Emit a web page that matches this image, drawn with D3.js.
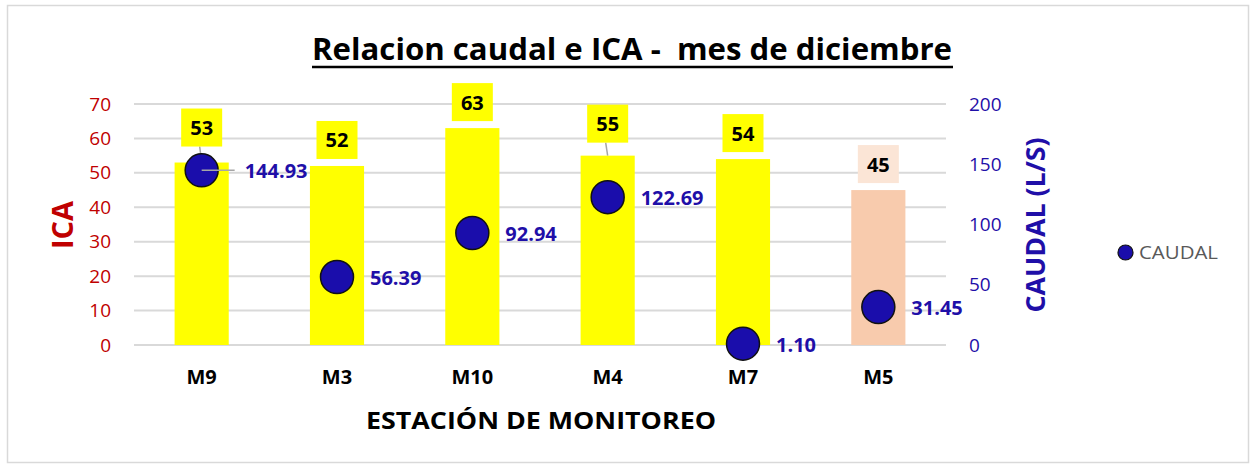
<!DOCTYPE html>
<html>
<head>
<meta charset="utf-8">
<script src="https://cdn.jsdelivr.net/npm/d3@7"></script>
<style>
  html, body { margin: 0; padding: 0; background: #fff; }
  svg { display: block; font-family: "Open Sans", "Noto Sans", sans-serif; }
</style>
</head>
<body>
<svg id="chart" width="1256" height="468"></svg>
<script>
// Monitoring stations and December values
const estaciones = ["M9", "M3", "M10", "M4", "M7", "M5"];
const ica = [53, 52, 63, 55, 54, 45];
const caudal = [144.93, 56.39, 92.94, 122.69, 1.10, 31.45];
const icaTicks = [0, 10, 20, 30, 40, 50, 60, 70];
const caudalTicks = [0, 50, 100, 150, 200];

const svg = d3.select("#chart");
const W = 1256, H = 468;
const plot = { left: 134, right: 946, top: 104, bottom: 345 };

const BLUE = "#1F0FA8";
const RED = "#C00000";
const YELLOW = "#FFFF00";
const PEACH = "#F8CBAD";
const PEACH_LIGHT = "#FBE5D6";

// chart frame
svg.append("rect")
  .attr("x", 7.5).attr("y", 5.5)
  .attr("width", W - 15).attr("height", H - 11)
  .attr("fill", "#fff").attr("stroke", "#D9D9D9").attr("stroke-width", 1.5);

const x = d3.scaleBand().domain(estaciones)
  .range([plot.left, plot.right]).paddingInner(0.6).paddingOuter(0.3);
const yL = d3.scaleLinear().domain([0, 70]).range([plot.bottom, plot.top]);
const yR = d3.scaleLinear().domain([0, 200]).range([plot.bottom, plot.top]);

// horizontal gridlines
svg.append("g").selectAll("line").data(icaTicks).join("line")
  .attr("x1", plot.left).attr("x2", plot.right)
  .attr("y1", d => yL(d)).attr("y2", d => yL(d))
  .attr("stroke", "#D9D9D9").attr("stroke-width", 2);

// left axis (ICA)
const axL = svg.append("g").attr("transform", `translate(${plot.left - 18},0)`)
  .call(d3.axisLeft(yL).tickValues(icaTicks).tickSize(0).tickPadding(5));
axL.select(".domain").remove();
axL.selectAll("text").attr("fill", RED).style("font-size", "19px")
  .style("font-family", "'Open Sans', sans-serif");

// right axis (CAUDAL)
const axR = svg.append("g").attr("transform", `translate(${plot.right + 18},0)`)
  .call(d3.axisRight(yR).tickValues(caudalTicks).tickSize(0).tickPadding(5));
axR.select(".domain").remove();
axR.selectAll("text").attr("fill", BLUE).style("font-size", "19px")
  .style("font-family", "'Open Sans', sans-serif");

// ICA bars
const barColor = (d, i) => estaciones[i] === "M5" ? PEACH : YELLOW;
const boxColor = (d, i) => estaciones[i] === "M5" ? PEACH_LIGHT : YELLOW;
svg.append("g").selectAll("rect").data(ica).join("rect")
  .attr("x", (d, i) => x(estaciones[i]))
  .attr("width", x.bandwidth())
  .attr("y", d => yL(d))
  .attr("height", d => yL(0) - yL(d))
  .attr("fill", barColor);

// ICA value labels (boxes); some are lifted with a leader line
const lift = { M9: 9, M4: 6 };
const boxW = 41, boxH = 38, gap = 7;
const icaLbl = svg.append("g");
ica.forEach((v, i) => {
  const k = estaciones[i];
  const cx = x(k) + x.bandwidth() / 2;
  const top = yL(v);
  const extra = lift[k] || 0;
  const bottom = top - gap - extra;
  if (extra) {
    icaLbl.append("line")
      .attr("x1", cx - 2).attr("y1", bottom)
      .attr("x2", cx).attr("y2", top)
      .attr("stroke", "#A6A6A6").attr("stroke-width", 1.5);
  }
  icaLbl.append("rect")
    .attr("x", cx - boxW / 2).attr("y", bottom - boxH)
    .attr("width", boxW).attr("height", boxH)
    .attr("fill", boxColor(v, i));
  icaLbl.append("text")
    .attr("x", cx).attr("y", bottom - boxH / 2 + 7.5)
    .attr("text-anchor", "middle")
    .attr("fill", "#000").style("font-weight", "bold").style("font-size", "20px")
    .text(v);
});

// CAUDAL markers and labels
const cG = svg.append("g");
caudal.forEach((v, i) => {
  const k = estaciones[i];
  const cx = x(k) + x.bandwidth() / 2;
  const cy = yR(v);
  let lx = cx + 33;
  if (k === "M9") lx = cx + 43;
  cG.append("circle")
    .attr("cx", cx).attr("cy", cy).attr("r", 16.5)
    .attr("fill", "#1A0DAB").attr("stroke", "#111").attr("stroke-width", 1.5);
  if (k === "M9") {
    cG.append("line")
      .attr("x1", cx).attr("y1", cy).attr("x2", cx + 33).attr("y2", cy)
      .attr("stroke", "#A6A6A6").attr("stroke-width", 1.5);
  }
  cG.append("text")
    .attr("x", lx).attr("y", cy + 8)
    .attr("fill", BLUE).style("font-weight", "bold").style("font-size", "20px")
    .text(v.toFixed(2));
});

// category labels
svg.append("g").selectAll("text").data(estaciones).join("text")
  .attr("x", d => x(d) + x.bandwidth() / 2).attr("y", 383.5)
  .attr("text-anchor", "middle")
  .style("font-weight", "bold").style("font-size", "20px").attr("fill", "#000")
  .text(d => d);

// axis titles
svg.append("text")
  .attr("x", 541).attr("y", 429)
  .attr("text-anchor", "middle")
  .style("font-weight", "bold").style("font-size", "24px").attr("fill", "#000")
  .attr("textLength", 350).attr("lengthAdjust", "spacingAndGlyphs")
  .text("ESTACIÓN DE MONITOREO");

svg.append("text")
  .attr("transform", "translate(61,225) rotate(-90)")
  .attr("text-anchor", "middle").attr("dominant-baseline", "central")
  .style("font-weight", "bold").style("font-size", "29px").attr("fill", RED)
  .text("ICA");

svg.append("text")
  .attr("transform", "translate(1035,225) rotate(-90)")
  .attr("text-anchor", "middle").attr("dominant-baseline", "central")
  .style("font-weight", "bold").style("font-size", "26px").attr("fill", BLUE)
  .attr("textLength", 175).attr("lengthAdjust", "spacingAndGlyphs")
  .text("CAUDAL (L/S)");

// title with underline
svg.append("text")
  .attr("x", 632).attr("y", 60)
  .attr("text-anchor", "middle")
  .attr("xml:space", "preserve").style("white-space", "pre")
  .style("font-weight", "bold").style("font-size", "31px").attr("fill", "#000")
  .attr("textLength", 640).attr("lengthAdjust", "spacingAndGlyphs")
  .text("Relacion caudal e ICA -  mes de diciembre");
svg.append("line")
  .attr("x1", 312).attr("x2", 953).attr("y1", 67).attr("y2", 67)
  .attr("stroke", "#000").attr("stroke-width", 2.5);

// legend
const lg = svg.append("g").attr("transform", "translate(1125.5,252.5)");
lg.append("circle").attr("r", 7.5)
  .attr("fill", "#1A0DAB").attr("stroke", "#111").attr("stroke-width", 1.2);
lg.append("text").attr("x", 13.5).attr("y", 6)
  .style("font-size", "18px").attr("fill", "#595959")
  .attr("textLength", 79).attr("lengthAdjust", "spacingAndGlyphs")
  .text("CAUDAL");
</script>
</body>
</html>
